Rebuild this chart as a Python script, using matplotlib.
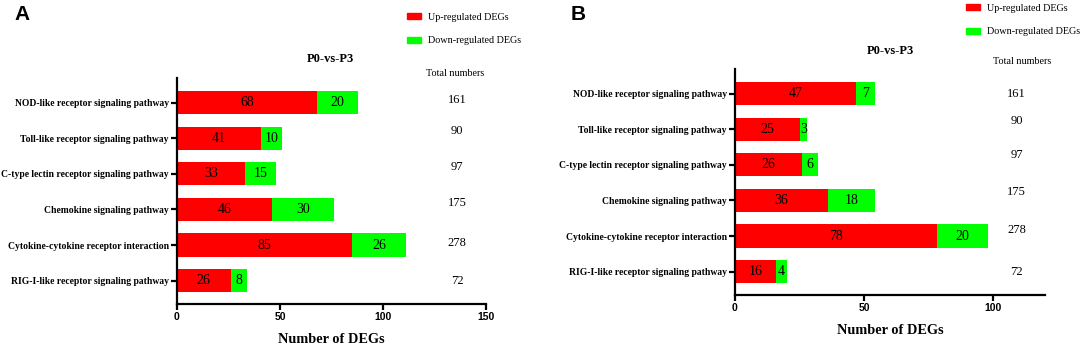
import matplotlib.pyplot as plt
from matplotlib.patches import Patch

pathways = [
    "NOD-like receptor signaling pathway",
    "Toll-like receptor signaling pathway",
    "C-type lectin receptor signaling pathway",
    "Chemokine signaling pathway",
    "Cytokine-cytokine receptor interaction",
    "RIG-I-like receptor signaling pathway",
]
totals = [161, 90, 97, 175, 278, 72]

up_a = [68, 41, 33, 46, 85, 26]
down_a = [20, 10, 15, 30, 26, 8]
up_b = [47, 25, 26, 36, 78, 16]
down_b = [7, 3, 6, 18, 20, 4]

RED = "#ff0000"
GREEN = "#00ff00"
SERIF = "Liberation Serif"
SANS = "Liberation Sans"

W, H = 1084, 347


def fx(px):
    return px / W


def fy(py):
    return 1 - py / H


def draw_panel(ax, up, down, xmax, xticks, total_x, total_shift):
    y = list(range(len(pathways)))
    b1 = ax.barh(y, up, height=0.65, color=RED)
    b2 = ax.barh(y, down, left=up, height=0.65, color=GREEN)
    ax.bar_label(b1, label_type="center", fontsize=10, family=SERIF)
    ax.bar_label(b2, label_type="center", fontsize=10, family=SERIF)
    ax.set_yticks(y)
    ax.set_yticklabels(pathways, family=SERIF, fontweight="bold", fontsize=6.9)
    ax.set_ylim(len(pathways) - 0.34, -0.7)
    ax.set_xlim(0, xmax)
    ax.set_xticks(xticks)
    ax.set_xticklabels([str(t) for t in xticks], family=SANS,
                       fontweight="bold", fontsize=7.5)
    ax.set_xlabel("Number of DEGs", family=SERIF, fontweight="bold",
                  fontsize=10.3, labelpad=8)
    for s in ["top", "right"]:
        ax.spines[s].set_visible(False)
    for s in ["left", "bottom"]:
        ax.spines[s].set_linewidth(1.6)
    ax.tick_params(axis="both", width=1.6, length=4, pad=2)
    for i, t in enumerate(totals):
        ax.text(total_x, i + total_shift[i], str(t), ha="center",
                va="center", family=SERIF, fontsize=9, clip_on=False)


fig = plt.figure(figsize=(W / 100, H / 100), dpi=100)

ax_a = fig.add_axes([fx(177), fy(304), fx(486 - 177), (304 - 78) / H])
draw_panel(ax_a, up_a, down_a, 150, [0, 50, 100, 150], 136,
           [-0.07, -0.22, -0.2, -0.18, -0.05, 0.0])

ax_b = fig.add_axes([fx(735), fy(295), fx(1045 - 735), (295 - 69) / H])
draw_panel(ax_b, up_b, down_b, 120, [0, 50, 100], 109,
           [0.0, -0.24, -0.27, -0.25, -0.17, 0.0])

handles = [Patch(color=RED, label="Up-regulated DEGs"),
           Patch(color=GREEN, label="Down-regulated DEGs")]
for lx, ly in [(407, 13), (966, 4)]:
    fig.legend(handles=handles, loc="upper left", bbox_to_anchor=(fx(lx), fy(ly)),
               frameon=False, prop={"family": SERIF, "size": 7.3},
               handlelength=1.4, handleheight=0.55, labelspacing=1.4,
               handletextpad=0.7, borderpad=0, borderaxespad=0)

fig.text(fx(14), fy(15), "A", family=SANS, fontweight="bold", fontsize=15,
         va="center", ha="left")
fig.text(fx(571), fy(14), "B", family=SANS, fontweight="bold", fontsize=15,
         va="center", ha="left")
fig.text(fx(330), fy(59), "P0-vs-P3", family=SERIF, fontweight="bold",
         fontsize=9, ha="center", va="center")
fig.text(fx(890), fy(51), "P0-vs-P3", family=SERIF, fontweight="bold",
         fontsize=9, ha="center", va="center")
fig.text(fx(455), fy(73), "Total numbers", family=SERIF, fontsize=7.3,
         ha="center", va="center")
fig.text(fx(1022), fy(61), "Total numbers", family=SERIF, fontsize=7.3,
         ha="center", va="center")

fig.savefig("out.png", dpi=100)
